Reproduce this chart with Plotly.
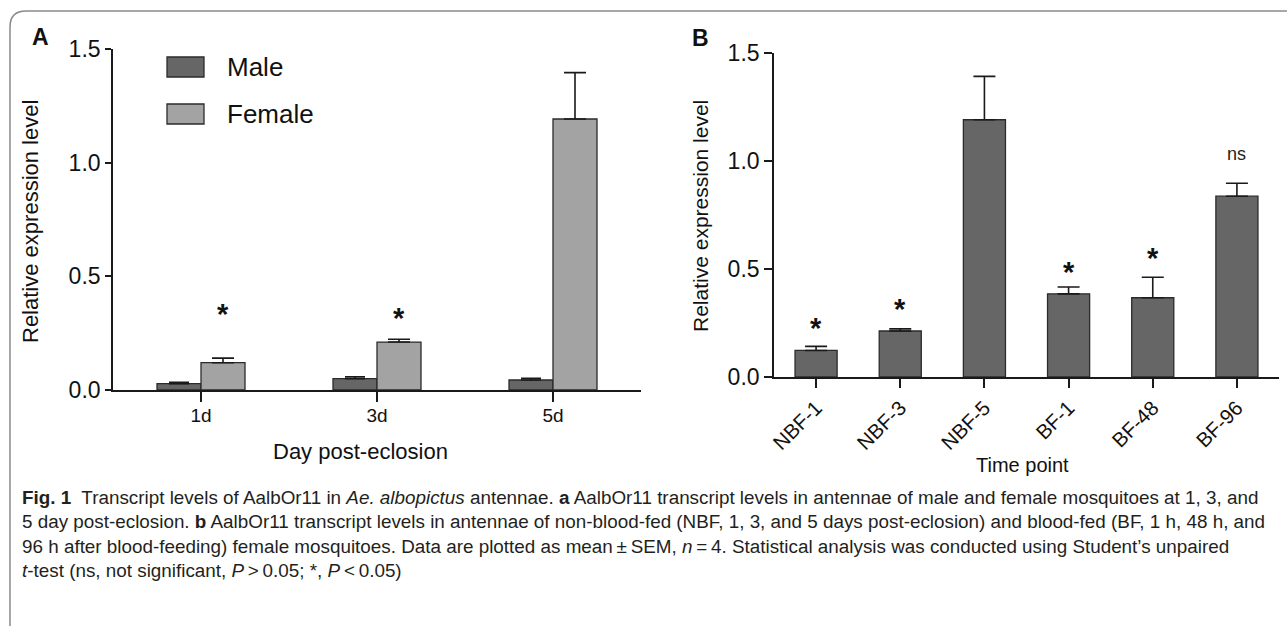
import plotly.graph_objects as go

W, H = 1287, 626

# ---------------- data ----------------
days = ["1d", "3d", "5d"]
male_mean = [0.028, 0.050, 0.044]
male_sem = [0.006, 0.008, 0.008]
female_mean = [0.120, 0.211, 1.192]
female_sem = [0.020, 0.012, 0.204]
star_a_y = [0.37, 0.352, 1.53]

timepoints = ["NBF-1", "NBF-3", "NBF-5", "BF-1", "BF-48", "BF-96"]
tp_mean = [0.123, 0.213, 1.191, 0.385, 0.367, 0.837]
tp_sem = [0.019, 0.010, 0.201, 0.032, 0.095, 0.060]
tp_sig = ["*", "*", "", "*", "*", "ns"]
tp_sig_y = [0.262, 0.350, None, 0.525, 0.588, 1.017]

y_ticks = [0.0, 0.5, 1.0, 1.5]

caption_lines = [
    "<b>Fig. 1</b>  Transcript levels of AalbOr11 in <i>Ae. albopictus</i> antennae. <b>a</b> AalbOr11 transcript levels in antennae of male and female mosquitoes at 1, 3, and",
    "5 day post-eclosion. <b>b</b> AalbOr11 transcript levels in antennae of non-blood-fed (NBF, 1, 3, and 5 days post-eclosion) and blood-fed (BF, 1 h, 48 h, and",
    "96 h after blood-feeding) female mosquitoes. Data are plotted as mean\u2009\u00b1\u2009SEM, <i>n</i>\u2009=\u20094. Statistical analysis was conducted using Student\u2019s unpaired",
    "<i>t</i>-test (ns, not significant, <i>P</i>\u2009&gt;\u20090.05; *, <i>P</i>\u2009&lt;\u20090.05)",
]

# ---------------- helpers ----------------
def px(x):
    return x / W

def py(y):
    return 1 - y / H

FONT = "Liberation Sans, Arial, sans-serif"
CAPFONT = "Liberation Sans Narrow, Liberation Sans, Arial, sans-serif"
MALE_C = "#666666"
FEMALE_C = "#a3a3a3"
EDGE = "#2b2b2b"
AX = "#1a1a1a"

fig = go.Figure()

xa = list(range(len(days)))
fig.add_trace(go.Bar(
    x=xa, y=male_mean, name="Male", xaxis="x", yaxis="y",
    marker=dict(color=MALE_C, line=dict(color=EDGE, width=1.3)),
    error_y=dict(type="data", symmetric=False, array=male_sem,
                 arrayminus=[0] * len(male_sem), color=AX, thickness=1.6, width=10),
    showlegend=False,
))
fig.add_trace(go.Bar(
    x=xa, y=female_mean, name="Female", xaxis="x", yaxis="y",
    marker=dict(color=FEMALE_C, line=dict(color=EDGE, width=1.3)),
    error_y=dict(type="data", symmetric=False, array=female_sem,
                 arrayminus=[0] * len(female_sem), color=AX, thickness=1.6, width=11),
    showlegend=False,
))

xb = list(range(len(timepoints)))
fig.add_trace(go.Bar(
    x=xb, y=tp_mean, name="Female", xaxis="x2", yaxis="y2",
    marker=dict(color=MALE_C, line=dict(color=EDGE, width=1.3)),
    error_y=dict(type="data", symmetric=False, array=tp_sem,
                 arrayminus=[0] * len(tp_sem), color=AX, thickness=1.6, width=11),
    showlegend=False,
))

annotations = []
shapes = []

def ptext(x, y, text, size, family=FONT, xanchor="center", yanchor="middle", angle=0,
          color="#111"):
    annotations.append(dict(x=px(x), y=py(y), xref="paper", yref="paper", text=text,
                            xanchor=xanchor, yanchor=yanchor, textangle=angle,
                            showarrow=False, font=dict(family=family, size=size, color=color)))

# significance marks, panel A (over female bars)
for i, yv in enumerate(star_a_y):
    annotations.append(dict(x=i + 0.125, y=yv, xref="x", yref="y", text="<b>*</b>",
                            xanchor="center", yanchor="middle",
                            showarrow=False, font=dict(family=FONT, size=29, color="#111"),
                            yshift=-8))
# panel B
for i, (s, yv) in enumerate(zip(tp_sig, tp_sig_y)):
    if not s:
        continue
    if s == "*":
        annotations.append(dict(x=i, y=yv, xref="x2", yref="y2", text="<b>*</b>",
                                xanchor="center", yanchor="middle",
                                showarrow=False, font=dict(family=FONT, size=29, color="#111"),
                                yshift=-8))
    else:
        annotations.append(dict(x=i, y=yv, xref="x2", yref="y2", text=s,
                                xanchor="center", yanchor="middle", yshift=3,
                                showarrow=False, font=dict(family=CAPFONT, size=18, color="#222")))

# panel letters
ptext(40, 37, "<b>A</b>", 23)
ptext(700, 38, "<b>B</b>", 23)

# legend (panel A)
for (label, col, ytop) in [("Male", MALE_C, 57), ("Female", FEMALE_C, 104)]:
    shapes.append(dict(type="rect", xref="paper", yref="paper",
                       x0=px(167), x1=px(204), y0=py(ytop + 20), y1=py(ytop),
                       fillcolor=col, line=dict(color=EDGE, width=1.3)))
    ptext(225, ytop + 10, label, 26, xanchor="left")

# axis titles
ptext(30, 222, "Relative expression level", 22, angle=-90)
ptext(360, 451, "Day post-eclosion", 22)
ptext(700, 216, "Relative expression level", 21, angle=-90)
ptext(1022, 465, "Time point", 20, family=CAPFONT)

# caption
cap_y = [497, 521, 546, 570]
for line, yy in zip(caption_lines, cap_y):
    ptext(20, yy, line, 18.85, family=CAPFONT, xanchor="left", color="#231f20")

# frame (rounded)
r = 16
x_l, y_t, y_b = 10, 11, 640
path = (f"M {px(W + 5)} {py(y_t)} L {px(x_l + r)} {py(y_t)} "
        f"Q {px(x_l)} {py(y_t)} {px(x_l)} {py(y_t + r)} "
        f"L {px(x_l)} {py(y_b)}")
shapes.append(dict(type="path", xref="paper", yref="paper", path=path,
                   line=dict(color="#8a8a8a", width=1.5)))

axis_common = dict(showline=True, linecolor=AX, linewidth=1.6, ticks="outside",
                   tickcolor=AX, tickwidth=1.6, showgrid=False, zeroline=False,
                   automargin=False)

fig.update_layout(
    width=W, height=H, autosize=False,
    margin=dict(l=0, r=0, t=0, b=0, pad=0, autoexpand=False),
    paper_bgcolor="white", plot_bgcolor="white",
    barmode="group", bargap=0.5, bargroupgap=0,
    showlegend=False,
    xaxis=dict(domain=[px(113), px(641)], range=[-0.5, 2.5], tickvals=xa, ticktext=days,
               ticklen=10, ticklabelstandoff=-3, tickfont=dict(family=FONT, size=19, color="#111"),
               anchor="y", **axis_common),
    yaxis=dict(domain=[py(390), py(49)], range=[0, 1.5], tickvals=y_ticks, tickformat=".1f",
               ticklen=6, tickfont=dict(family=FONT, size=23, color="#111"),
               anchor="x", **axis_common),
    xaxis2=dict(domain=[px(774), px(1279)], range=[-0.5, 5.5], tickvals=xb, ticktext=timepoints,
                tickangle=-45, ticklen=9, tickfont=dict(family=FONT, size=20.5, color="#111"),
                anchor="y2", **axis_common),
    yaxis2=dict(domain=[py(377), py(53)], range=[0, 1.5], tickvals=y_ticks, tickformat=".1f",
                ticklen=8, tickfont=dict(family=FONT, size=23, color="#111"),
                anchor="x2", **axis_common),
    annotations=annotations,
    shapes=shapes,
)

fig.write_html("out.html", config={"displayModeBar": False},
               post_script="document.body.style.margin='0px';document.body.style.overflow='hidden';")
